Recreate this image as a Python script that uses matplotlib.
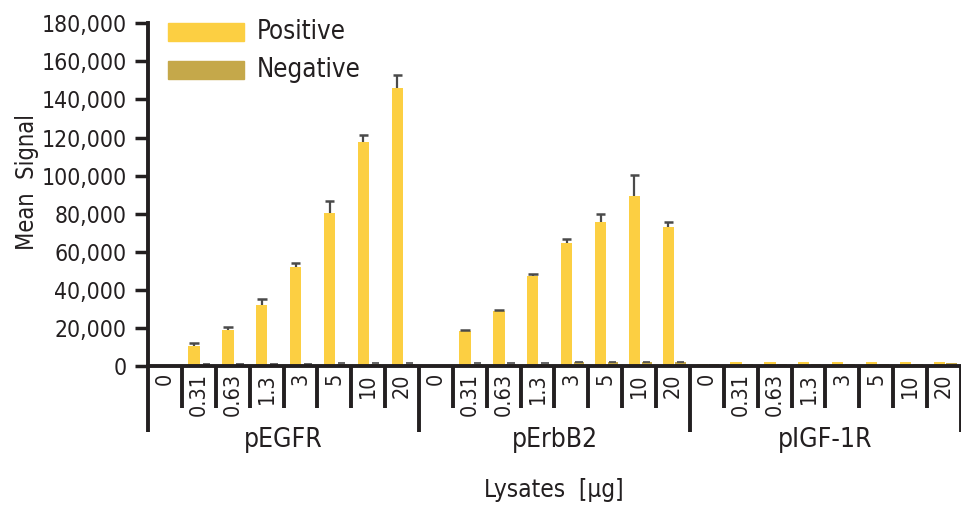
import matplotlib
matplotlib.use("Agg")
import matplotlib.pyplot as plt
from matplotlib.patches import Rectangle
from matplotlib.transforms import blended_transform_factory
import numpy as np

plt.rcParams['font.family'] = ['DejaVu Sans']
plt.rcParams['font.stretch'] = 'condensed'

groups = ["pEGFR", "pErbB2", "pIGF-1R"]
doses = ["0", "0.31", "0.63", "1.3", "3", "5", "10", "20"]

pos_egfr = [0, 10500, 19000, 32000, 52000, 80500, 117500, 146000]
pos_egfr_err = [0, 1800, 1500, 3000, 2000, 6000, 4000, 7000]
neg_egfr = [0, 600, 600, 700, 700, 1200, 1200, 1200]
neg_egfr_err = [0, 200, 200, 200, 200, 200, 200, 200]

pos_erbb2 = [0, 18500, 29000, 47300, 64500, 75600, 89200, 72900]
pos_erbb2_err = [0, 300, 500, 1000, 2300, 4000, 11200, 2800]
neg_erbb2 = [0, 1300, 1300, 1300, 2000, 2000, 2000, 2000]
neg_erbb2_err = [0, 200, 200, 200, 200, 200, 200, 200]

pos_igf = [900, 2100, 2100, 2100, 2100, 2100, 2100, 2100]
pos_igf_err = [0, 0, 0, 0, 0, 0, 0, 0]
neg_igf = [900, 900, 900, 900, 900, 900, 900, 1400]
neg_igf_err = [0, 0, 0, 0, 0, 0, 0, 0]

positive = pos_egfr + pos_erbb2 + pos_igf
positive_err = pos_egfr_err + pos_erbb2_err + pos_igf_err
negative = neg_egfr + neg_erbb2 + neg_igf
negative_err = neg_egfr_err + neg_erbb2_err + neg_igf_err

yticks = [0, 20000, 40000, 60000, 80000, 100000, 120000, 140000, 160000, 180000]

POS_COL = "#FCCF42"
NEG_COL = "#C5A84A"
DARK = "#231F20"
ERR = "#4a4a4a"

W, H = 962, 508
fig = plt.figure(figsize=(W / 100, H / 100), dpi=100)
ax = fig.add_axes([148 / W, 1 - 366 / H, (961 - 148) / W, (366 - 23.3) / H])

n = len(positive)
x = np.arange(n) + 0.5
xp = x - 0.14
xn = x + 0.22
pos = np.array(positive, float)
neg = np.array(negative, float)
pe = np.array(positive_err, float)
ne = np.array(negative_err, float)

ax.bar(xp, pos, width=0.33, color=POS_COL, zorder=2)
ax.bar(xn, neg, width=0.30, color=NEG_COL, zorder=2)

m = pe > 0
ax.vlines(xp[m], pos[m], pos[m] + pe[m], color=ERR, lw=1.6, zorder=3)
ax.hlines(pos[m] + pe[m], xp[m] - 0.14, xp[m] + 0.14, color=ERR, lw=1.8, zorder=3)
m = ne > 0
ax.hlines(neg[m] + ne[m], xn[m] - 0.11, xn[m] + 0.11, color=ERR, lw=1.2, zorder=3)

ax.set_xlim(0, n)
ax.set_ylim(0, 180000)
ax.set_yticks(yticks)
ax.set_yticklabels([f"{v:,}" for v in yticks], fontsize=16.5, color=DARK)
ax.tick_params(axis="y", direction="out", length=9.5, width=2.5, color=DARK, pad=6)
ax.set_xticks([])

for s in ["top", "right"]:
    ax.spines[s].set_visible(False)
ax.spines["left"].set_linewidth(2.8)
ax.spines["left"].set_color(DARK)
ax.spines["bottom"].set_linewidth(2.8)
ax.spines["bottom"].set_color(DARK)
ax.spines["bottom"].set_zorder(4)

trans = blended_transform_factory(ax.transData, ax.transAxes)
axh = (366 - 23.3)
minor_bottom = -(408 - 366) / axh
group_bottom = -(432 - 366) / axh
for i in range(n + 1):
    if i % 8 == 0:
        ax.plot([i, i], [0, group_bottom], transform=trans, color=DARK, lw=2.8,
                clip_on=False, solid_capstyle="butt")
    else:
        ax.plot([i, i], [0, minor_bottom], transform=trans, color=DARK, lw=2.8,
                clip_on=False, solid_capstyle="butt")

labels = doses * len(groups)
for i, lab in enumerate(labels):
    ax.text(x[i], -(373 - 366) / axh, lab, transform=trans, rotation=90,
            ha="center", va="top", fontsize=15.5, color=DARK)

for g, name in enumerate(groups):
    ax.text(g * 8 + 4, -(440 - 366) / axh, name, transform=trans, ha="center",
            va="center", fontsize=19, color=DARK)

fig.text(554 / W, 1 - 490 / H, "Lysates  [μg]", ha="center", va="center",
         fontsize=17.5, color=DARK)
fig.text(27 / W, 1 - 182 / H, "Mean  Signal", ha="center", va="center",
         rotation=90, fontsize=17, color=DARK)

# legend
for (y0, col, txt) in [(23, POS_COL, "Positive"), (61, NEG_COL, "Negative")]:
    fig.patches.append(Rectangle((168 / W, 1 - (y0 + 18) / H), 76 / W, 18 / H,
                                 transform=fig.transFigure, color=col))
    fig.text(257 / W, 1 - (y0 + 9) / H, txt, ha="left", va="center",
             fontsize=18.5, color=DARK)

fig.savefig("out.png", dpi=100)
